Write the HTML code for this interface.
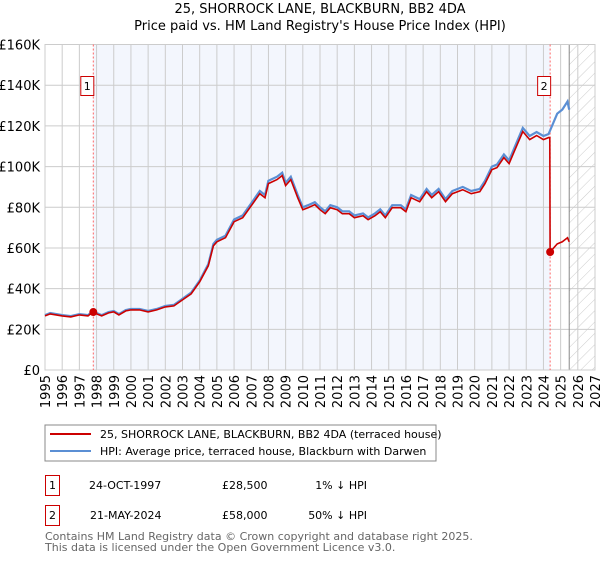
<!DOCTYPE html>
<html><head><meta charset="utf-8"><style>
body{margin:0;background:#fff;font-family:"Liberation Sans","DejaVu Sans",sans-serif;}
svg text{font-family:"DejaVu Sans","Liberation Sans",sans-serif;}
</style></head><body>
<svg id="c" width="600" height="560" xmlns="http://www.w3.org/2000/svg">
<defs><pattern id="hatch" width="8" height="8" patternUnits="userSpaceOnUse" patternTransform="rotate(45)"><line x1="0" y1="0" x2="0" y2="8" stroke="#ccc" stroke-width="1"/></pattern></defs>
<text x="320" y="13" text-anchor="middle" font-size="13">25, SHORROCK LANE, BLACKBURN, BB2 4DA</text>
<text x="320" y="30" text-anchor="middle" font-size="13">Price paid vs. HM Land Registry's House Price Index (HPI)</text>
<g id="plot"></g>
<rect x="45" y="425" width="391" height="36" fill="#fff" stroke="#888"/>
<line x1="50" y1="434" x2="91" y2="434" stroke="#cc0000" stroke-width="2"/>
<text x="100" y="438" font-size="11">25, SHORROCK LANE, BLACKBURN, BB2 4DA (terraced house)</text>
<line x1="50" y1="451" x2="91" y2="451" stroke="#5b8fd4" stroke-width="2"/>
<text x="100" y="455" font-size="11">HPI: Average price, terraced house, Blackburn with Darwen</text>
<g font-size="11">
<rect x="45.5" y="475.5" width="14" height="20" fill="none" stroke="#cc0000"/>
<text x="52.5" y="489" text-anchor="middle">1</text>
<text x="89" y="489">24-OCT-1997</text>
<text x="222" y="489">£28,500</text>
<text x="367" y="489" text-anchor="end">1% ↓ HPI</text>
<rect x="45.5" y="505.5" width="14" height="20" fill="none" stroke="#cc0000"/>
<text x="52.5" y="519" text-anchor="middle">2</text>
<text x="90" y="519">21-MAY-2024</text>
<text x="222" y="519">£58,000</text>
<text x="367" y="519" text-anchor="end">50% ↓ HPI</text>
</g>
<text x="45" y="540" font-size="11" fill="#666">Contains HM Land Registry data © Crown copyright and database right 2025.</text>
<text x="45" y="551" font-size="11" fill="#666">This data is licensed under the Open Government Licence v3.0.</text>
</svg>
<script>
const yTicks=[0,20,40,60,80,100,120,160,140];
const xYears=[1995,1996,1997,1998,1999,2000,2001,2002,2003,2004,2005,2006,2007,2008,2009,2010,2011,2012,2013,2014,2015,2016,2017,2018,2019,2020,2021,2022,2023,2024,2025,2026,2027];
const hpiT=[1995.0,1995.3,1996.0,1996.5,1997.0,1997.5,1997.8,1998.0,1998.3,1998.7,1999.0,1999.3,1999.7,2000.0,2000.5,2001.0,2001.5,2002.0,2002.5,2003.0,2003.5,2004.0,2004.5,2004.8,2005.0,2005.5,2006.0,2006.5,2007.0,2007.5,2007.8,2008.0,2008.5,2008.8,2009.0,2009.3,2009.7,2010.0,2010.3,2010.7,2011.0,2011.3,2011.6,2012.0,2012.3,2012.7,2013.0,2013.5,2013.8,2014.2,2014.5,2014.8,2015.2,2015.7,2016.0,2016.3,2016.8,2017.2,2017.5,2017.9,2018.3,2018.7,2019.3,2019.8,2020.3,2020.6,2021.0,2021.3,2021.7,2022.0,2022.3,2022.8,2023.2,2023.6,2024.0,2024.3,2024.8,2025.1,2025.4,2025.5];
const hpiV=[27,28,27,26.5,27.5,27,29,28,27,28.5,29,27.5,29.5,30,30,29,30,31.5,32,35,38,44,52,62,64,66,74,76,82,88,86,93,95,97,92,95,86,80,81,82.5,80,78,81,80,78,78,76,77,75,77,79,76,81,81,79,86,84,89,86,89,84,88,90,88,89,93,100,101,106,103,109,119,115,117,115,116,126,128,132,128];
const saleT=[1997.81,2024.39];
const saleV=[28.5,58];
const postT=[2024.39,2024.8,2025.1,2025.4,2025.5];
const postV=[58,62,63,65,63];
const X0=45,X1=595,Y0=370,Y1=44.5;
const xs=t=>X0+(t-1995)/32*(X1-X0);
const ys=v=>Y0-v/160*(Y0-Y1);
const NS="http://www.w3.org/2000/svg";
const g=document.getElementById('plot');
function mk(tag,attrs){const e=document.createElementNS(NS,tag);for(const k in attrs)e.setAttribute(k,attrs[k]);g.appendChild(e);return e;}
let e;
e=mk('rect',{x:X0,y:Y1,width:X1-X0,height:Y0-Y1,fill:'#fff'});


e=mk('rect',{x:xs(saleT[0]),y:Y1,width:xs(saleT[1])-xs(saleT[0]),height:Y0-Y1,fill:'#f3f6fd'});


e=mk('rect',{x:xs(2025.5),y:Y1,width:X1-xs(2025.5),height:Y0-Y1,fill:'url(#hatch)'});


for(const v of yTicks){
 e=mk('line',{x1:X0,x2:X1,y1:ys(v),y2:ys(v),stroke:'#ccc','stroke-width':1});
 
 
 e=mk('text',{x:40,y:ys(v)+5,'text-anchor':'end','font-size':13});
 e.textContent=v===0?'£0':'£'+v+'K';
 
 
}
for(const yr of xYears){
 e=mk('line',{x1:xs(yr),x2:xs(yr),y1:Y1,y2:Y0,stroke:'#ccc','stroke-width':1});
 
 
 e=mk('text',{x:0,y:0,'font-size':13,'text-anchor':'end',transform:`translate(${xs(yr)+5},${Y0+5}) rotate(-90)`});
 e.textContent=yr;
 
 
}
e=mk('line',{x1:xs(2025.5),x2:xs(2025.5),y1:Y1,y2:Y0,stroke:'#888','stroke-width':1});


e=mk('rect',{x:X0,y:Y1,width:X1-X0,height:Y0-Y1,fill:'none',stroke:'#ccc'});


for(let i=0;i<saleT.length;i++){
 e=mk('line',{x1:xs(saleT[i]),x2:xs(saleT[i]),y1:Y1,y2:Y0,stroke:'#ff6666','stroke-width':1,'stroke-dasharray':'2,2'});
 
 
}
const hp=hpiT.map((t,i)=>xs(t).toFixed(1)+','+ys(hpiV[i]).toFixed(1)).join(' ');
e=mk('polyline',{points:hp,fill:'none',stroke:'#5b8fd4','stroke-width':2.2});


const ratio=0.985;
let pts=[];
let lastV=0;
for(let i=0;i<hpiT.length;i++){ if(hpiT[i]<saleT[1]){ pts.push([hpiT[i],hpiV[i]*ratio]); lastV=hpiV[i]*ratio; } }
pts.push([saleT[1]-0.02,lastV]);
for(let i=0;i<postT.length;i++) pts.push([postT[i],postV[i]]);
e=mk('polyline',{points:pts.map(p=>xs(p[0]).toFixed(1)+','+ys(p[1]).toFixed(1)).join(' '),fill:'none',stroke:'#cc0000','stroke-width':1.6});


for(let i=0;i<saleT.length;i++){
 e=mk('circle',{cx:xs(saleT[i]),cy:ys(saleV[i]),r:4,fill:'#cc0000'});
 
 
 const bx=xs(saleT[i])-12;
 e=mk('rect',{x:bx-0.5,y:76.5,width:13,height:19,fill:'#fff',stroke:'#cc0000'});
 
 
 e=mk('text',{x:bx+6,y:90,'text-anchor':'middle','font-size':11});
 e.textContent=String(i+1);
 
 
}
</script>
</body></html>
